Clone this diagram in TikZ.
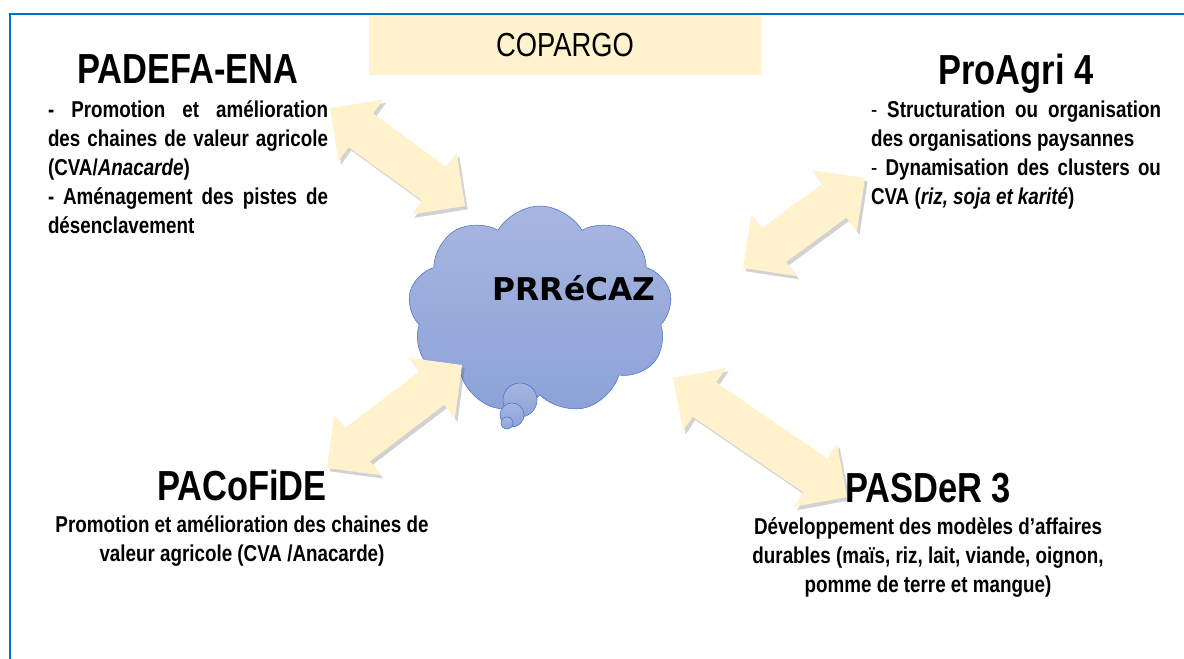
\documentclass[tikz,border=0pt]{standalone}
\usepackage{fontspec}
\setmainfont{Liberation Sans}[FakeStretch=0.82]
\newfontfamily\nuagefont{DejaVu Sans}
\usetikzlibrary{positioning,calc,shapes.symbols,shapes.arrows,shadows}
\definecolor{cadre}{RGB}{0,112,192}
\definecolor{creme}{RGB}{255,242,204}
\definecolor{nuagehaut}{RGB}{168,182,224}
\definecolor{nuagebas}{RGB}{140,162,216}
\definecolor{nuagebord}{RGB}{68,114,196}
\tikzset{titre/.style={font=\fontsize{31.5}{36}\selectfont\bfseries, inner sep=0pt, anchor=base}}
\tikzset{texte/.style={font=\fontsize{17.2}{21.75}\selectfont\bfseries, inner sep=0pt}}
\tikzset{fleche/.style={double arrow, fill=creme, inner xsep=0pt, inner ysep=15.4pt,
    double arrow head extend=13pt, double arrow tip angle=90,
    drop shadow={shadow xshift=2pt, shadow yshift=-2.5pt, opacity=.25, fill=black!70}}}
\tikzset{bulle/.style={circle, draw=nuagebord, top color=nuagehaut, bottom color=nuagebas, inner sep=0pt}}
\newcommand\doublefleche[2]{\path let \p1=($(#2)-(#1)$), \n1={atan2(\y1,\x1)}, \n2={veclen(\x1,\y1)}
    in node[fleche, minimum height=\n2, rotate=\n1] at ($(#1)!.5!(#2)$) {};}

\begin{document}
\begin{tikzpicture}[x=0.75pt,y=-0.75pt]
   \useasboundingbox (0,0) rectangle (1184,659);
   \draw[cadre, line width=1.5pt] (10,659) -- (10,14) -- (1184,14);

   \node[fill=creme, minimum width=294pt, minimum height=45pt, inner sep=0pt,
         font=\fontsize{25}{28}\selectfont] (copargo) at (565,45) {COPARGO};

   \node[cloud, cloud puffs=9, cloud puff arc=120, cloud ignores aspect,
         minimum width=198pt, minimum height=156pt, draw=nuagebord,
         top color=nuagehaut, bottom color=nuagebas] (nuage) at (540,310) {};
   \node[bulle, minimum size=25.5pt] (b1) at (520,400) {};
   \node[bulle, minimum size=18pt] (b2) at (512,415) {};
   \node[bulle, minimum size=9pt] (b3) at (507,423) {};
   \node[font=\nuagefont\fontsize{23.5}{28}\selectfont\bfseries] (prrecaz)
         at ($(nuage.center)+(34,-22)$) {PRRéCAZ};

   \coordinate (f1a) at (330,108);
   \coordinate (f1b) at (465,206);
   \coordinate (f2a) at (865,178);
   \coordinate (f2b) at (743,268);
   \coordinate (f3a) at (462,365);
   \coordinate (f3b) at (327,468);
   \coordinate (f4a) at (673,378);
   \coordinate (f4b) at (847,497);
   \doublefleche{f1a}{f1b}
   \doublefleche{f2a}{f2b}
   \doublefleche{f3a}{f3b}
   \doublefleche{f4a}{f4b}

   \node[titre] (padefa) at (188,84) {PADEFA-ENA};
   \node[texte, text width=210pt, align=justify, below=12pt of padefa.base] (padefatxt) {%
      - Promotion et amélioration\linebreak
      des chaines de valeur agricole\linebreak
      (CVA/\textit{Anacarde})\par
      - Aménagement des pistes de\linebreak
      désenclavement};

   \node[titre] (proagri) at (1016,85) {ProAgri 4};
   \node[texte, text width=217.5pt, align=justify, below=12pt of proagri.base] (proagritxt) {%
      {\mdseries -} Structuration ou organisation\linebreak
      des organisations paysannes\par
      {\mdseries -} Dynamisation des clusters ou\linebreak
      CVA (\textit{riz, soja et karité})};

   \node[titre] (pacofide) at (242,500) {PACoFiDE};
   \node[texte, align=center, below=11.25pt of pacofide.base] (pacofidetxt) {%
      Promotion et amélioration des chaines de\\
      valeur agricole (CVA /Anacarde)};

   \node[titre] (pasder) at (928,502) {PASDeR 3};
   \node[texte, align=center, below=11.25pt of pasder.base] (pasdertxt) {%
      Développement des modèles d’affaires\\
      durables (maïs, riz, lait, viande, oignon,\\
      pomme de terre et mangue)};
\end{tikzpicture}
\end{document}
